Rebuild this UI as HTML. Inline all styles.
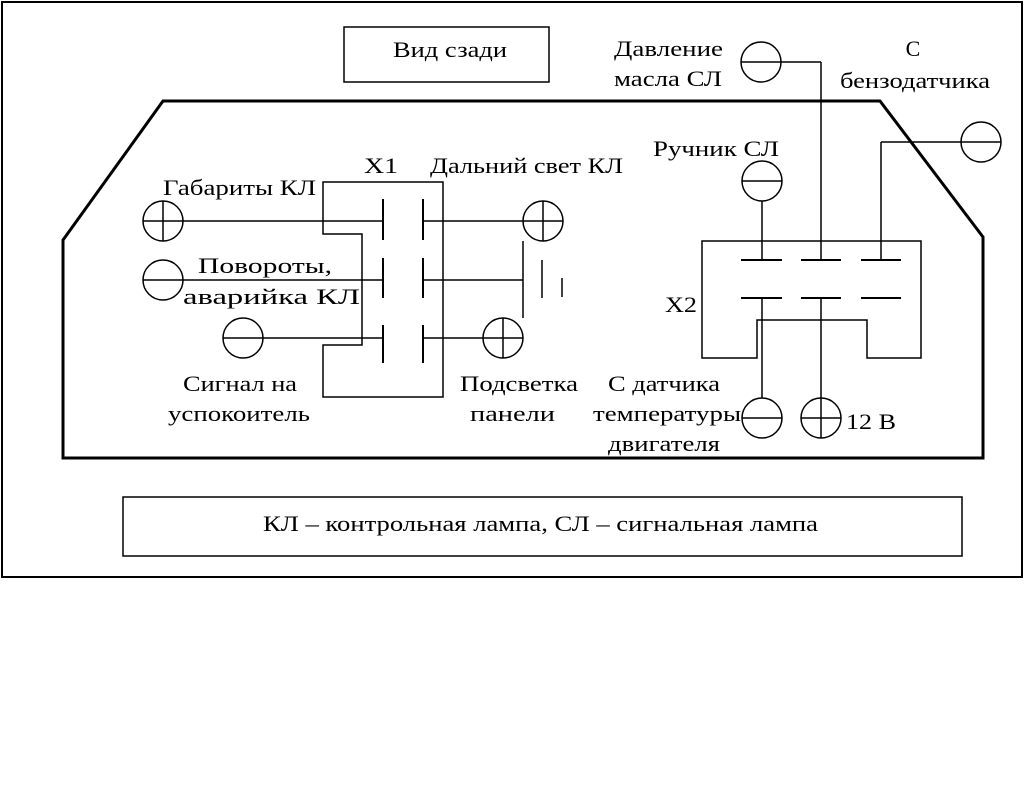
<!DOCTYPE html>
<html><head><meta charset="utf-8"><style>
html,body{margin:0;padding:0;background:#fff;width:1024px;height:805px;overflow:hidden}
svg{display:block}
text{font-family:"Liberation Serif","Noto Serif CJK SC",serif;font-size:22px;fill:#000}
</style></head><body>
<svg width="1024" height="805" viewBox="0 0 1024 805" xmlns="http://www.w3.org/2000/svg">
<g fill="none" stroke="#000">
<rect x="2" y="2" width="1020" height="575" stroke-width="2"/>
<rect x="344" y="27" width="205" height="55" stroke-width="1.5"/>
<rect x="123" y="497" width="839" height="59" stroke-width="1.5"/>
<polygon points="63,240 163,101 880,101 983,237 983,458 63,458" stroke-width="3"/>
<polygon points="323,182 443,182 443,397 323,397 323,345 362,345 362,234 323,234" stroke-width="1.5"/>
<g stroke-width="2">
<line x1="383" y1="199" x2="383" y2="240"/><line x1="423" y1="199" x2="423" y2="240"/>
<line x1="383" y1="258" x2="383" y2="298"/><line x1="423" y1="258" x2="423" y2="298"/>
<line x1="383" y1="325" x2="383" y2="363"/><line x1="423" y1="325" x2="423" y2="363"/>
</g>
<g stroke-width="1.5">
<line x1="143" y1="221" x2="383" y2="221"/><line x1="423" y1="221" x2="563" y2="221"/>
<circle cx="163" cy="221" r="20"/><line x1="163" y1="201" x2="163" y2="241"/>
<circle cx="543" cy="221" r="20"/><line x1="543" y1="201" x2="543" y2="241"/>
<line x1="143" y1="280" x2="383" y2="280"/><circle cx="163" cy="280" r="20"/>
<line x1="423" y1="280" x2="523" y2="280"/>
<line x1="523" y1="241" x2="523" y2="318"/>
<line x1="542" y1="260" x2="542" y2="298"/>
<line x1="562" y1="278" x2="562" y2="297"/>
<line x1="223" y1="338" x2="383" y2="338"/><circle cx="243" cy="338" r="20"/>
<line x1="423" y1="338" x2="523" y2="338"/><circle cx="503" cy="338" r="20"/><line x1="503" y1="318" x2="503" y2="358"/>
</g>
<polygon points="702,241 921,241 921,358 867,358 867,320 757,320 757,358 702,358" stroke-width="1.5"/>
<g stroke-width="2">
<line x1="741" y1="260" x2="782" y2="260"/><line x1="801" y1="260" x2="841" y2="260"/><line x1="861" y1="260" x2="901" y2="260"/>
<line x1="741" y1="298" x2="782" y2="298"/><line x1="801" y1="298" x2="841" y2="298"/><line x1="861" y1="298" x2="901" y2="298"/>
</g>
<g stroke-width="1.5">
<circle cx="762" cy="181" r="20"/><line x1="742" y1="181" x2="782" y2="181"/><line x1="762" y1="201" x2="762" y2="260"/>
<circle cx="761" cy="62" r="20"/><line x1="741" y1="62" x2="821" y2="62"/><line x1="821" y1="62" x2="821" y2="260"/>
<circle cx="981" cy="142" r="20"/><line x1="1001" y1="142" x2="881" y2="142"/><line x1="881" y1="142" x2="881" y2="260"/>
<line x1="762" y1="298" x2="762" y2="398"/><circle cx="762" cy="418" r="20"/><line x1="742" y1="418" x2="782" y2="418"/>
<line x1="821" y1="298" x2="821" y2="438"/><circle cx="821" cy="418" r="20"/><line x1="801" y1="418" x2="841" y2="418"/>
</g>
</g>
<text x="393" y="57" textLength="114" lengthAdjust="spacingAndGlyphs">Вид сзади</text>
<text x="263" y="531" textLength="555" lengthAdjust="spacingAndGlyphs">КЛ – контрольная лампа, СЛ – сигнальная лампа</text>
<text x="364" y="173" textLength="34" lengthAdjust="spacingAndGlyphs">X1</text>
<text x="430" y="173" textLength="193" lengthAdjust="spacingAndGlyphs">Дальний свет КЛ</text>
<text x="163" y="195" textLength="153" lengthAdjust="spacingAndGlyphs">Габариты КЛ</text>
<text x="198" y="273" textLength="134" lengthAdjust="spacingAndGlyphs">Повороты,</text>
<text x="183" y="304" textLength="177" lengthAdjust="spacingAndGlyphs">аварийка КЛ</text>
<text x="183" y="391" textLength="114" lengthAdjust="spacingAndGlyphs">Сигнал на</text>
<text x="168" y="421" textLength="142" lengthAdjust="spacingAndGlyphs">успокоитель</text>
<text x="460" y="391" textLength="118" lengthAdjust="spacingAndGlyphs">Подсветка</text>
<text x="470" y="421" textLength="85" lengthAdjust="spacingAndGlyphs">панели</text>
<text x="614" y="56" textLength="109" lengthAdjust="spacingAndGlyphs">Давление</text>
<text x="614" y="86" textLength="108" lengthAdjust="spacingAndGlyphs">масла СЛ</text>
<text x="913" y="56" text-anchor="middle">С</text>
<text x="840" y="88" textLength="150" lengthAdjust="spacingAndGlyphs">бензодатчика</text>
<text x="653" y="156" textLength="126" lengthAdjust="spacingAndGlyphs">Ручник СЛ</text>
<text x="665" y="312" textLength="32" lengthAdjust="spacingAndGlyphs">X2</text>
<text x="608" y="391" textLength="112" lengthAdjust="spacingAndGlyphs">С датчика</text>
<text x="593" y="421" textLength="148" lengthAdjust="spacingAndGlyphs">температуры</text>
<text x="608" y="451" textLength="112" lengthAdjust="spacingAndGlyphs">двигателя</text>
<text x="846" y="429" textLength="50" lengthAdjust="spacingAndGlyphs">12 В</text>
</svg>
</body></html>
